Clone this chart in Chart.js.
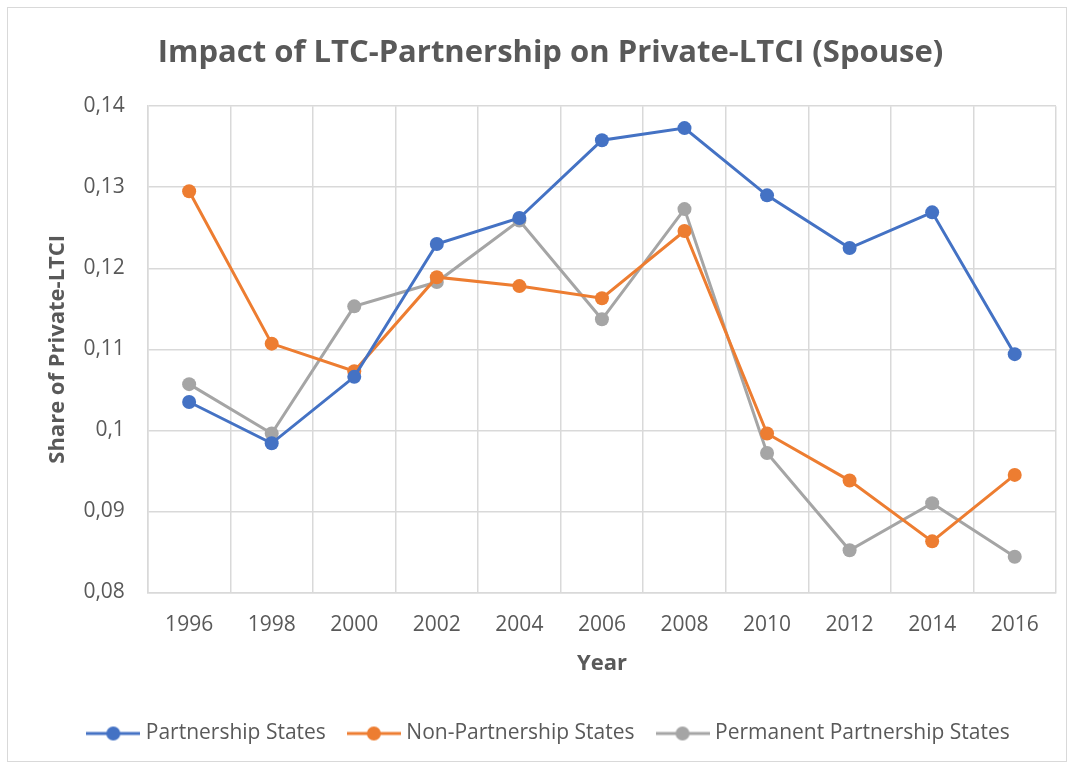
<!DOCTYPE html>
<html>
<head>
<meta charset="utf-8">
<script src="https://cdn.jsdelivr.net/npm/chart.js@4"></script>
<style>
  body { margin: 0; background: #fff; }
  #wrap { position: absolute; left: 7px; top: 7px; width: 1060px; height: 755px; border: 1px solid #d9d9d9; box-sizing: border-box; }
</style>
</head>
<body>
<div id="wrap"><canvas id="lineChart" width="1058" height="753"></canvas></div>
<script>
var YEARS = ["1996","1998","2000","2002","2004","2006","2008","2010","2012","2014","2016"],
    PARTNERSHIP = [0.1035, 0.0984, 0.1066, 0.1230, 0.1262, 0.1358, 0.1373, 0.1290, 0.1225, 0.1269, 0.1094],
    NON_PARTNERSHIP = [0.1295, 0.1107, 0.1073, 0.1189, 0.1178, 0.1163, 0.1246, 0.0996, 0.0938, 0.0863, 0.0945],
    PERMANENT = [0.1057, 0.0996, 0.1153, 0.1183, 0.1259, 0.1137, 0.1273, 0.0972, 0.0852, 0.0910, 0.0844],
    NAMES = ["Partnership States", "Non-Partnership States", "Permanent Partnership States"],
    COLORS = ["#4472C4", "#ED7D31", "#A5A5A5"];

var FONT = "'Open Sans', 'Noto Sans', sans-serif";
var TEXT = "#595959";

// petit symbole ligne + point pour la legende, comme dans Excel
function legendIcon(color) {
    var c = document.createElement("canvas");
    c.width = 54; c.height = 16;
    var g = c.getContext("2d");
    g.strokeStyle = color;
    g.lineWidth = 3;
    g.beginPath(); g.moveTo(0, 8); g.lineTo(54, 8); g.stroke();
    g.fillStyle = color;
    g.beginPath(); g.arc(27, 8, 7, 0, Math.PI * 2); g.fill();
    return c;
}

function makeSet(i, values) {
    return {
        label: NAMES[i],
        data: values,
        borderColor: COLORS[i],
        backgroundColor: COLORS[i],
        borderWidth: 3,
        pointRadius: 7,
        pointHoverRadius: 7,
        pointBorderWidth: 0,
        tension: 0
    };
}

var ctx = document.getElementById("lineChart").getContext("2d");
var lineChart = new Chart(ctx, {
    type: 'line',
    data: {
        labels: YEARS,
        datasets: [makeSet(0, PARTNERSHIP), makeSet(1, NON_PARTNERSHIP), makeSet(2, PERMANENT)]
    },
    options: {
        responsive: false,
        animation: false,
        layout: { padding: { left: 37, right: 10, top: 12, bottom: 7 } },
        plugins: {
            title: {
                display: true,
                text: 'Impact of LTC-Partnership on Private-LTCI (Spouse)',
                color: TEXT,
                font: { family: FONT, size: 31, weight: 'bold' },
                padding: { top: 15, bottom: 34 }
            },
            legend: {
                position: 'bottom',
                labels: {
                    color: TEXT,
                    font: { family: FONT, size: 21 },
                    usePointStyle: true,
                    pointStyleWidth: 44,
                    boxHeight: 16,
                    padding: 26,
                    generateLabels: function (chart) {
                        return chart.data.datasets.map(function (ds, i) {
                            return {
                                text: ds.label,
                                fontColor: TEXT,
                                pointStyle: legendIcon(COLORS[i]),
                                lineWidth: 0,
                                datasetIndex: i
                            };
                        });
                    }
                }
            },
            tooltip: { enabled: false }
        },
        scales: {
            x: {
                offset: true,
                grid: { offset: true, color: '#d9d9d9', lineWidth: 1.5, drawTicks: false },
                border: { color: '#d9d9d9', width: 1.5 },
                ticks: { color: TEXT, font: { family: FONT, size: 21 }, padding: 20, maxRotation: 0 },
                title: { display: true, text: 'Year', color: TEXT, font: { family: FONT, size: 22, weight: 'bold' }, padding: { top: -7, bottom: 20 } }
            },
            y: {
                min: 0.08,
                max: 0.14,
                grid: { color: '#d9d9d9', lineWidth: 1.5, drawTicks: false },
                border: { color: '#d9d9d9', width: 1.5 },
                ticks: {
                    stepSize: 0.01,
                    color: TEXT,
                    font: { family: FONT, size: 21 },
                    padding: 23,
                    callback: function (v) { return String(+v.toFixed(2)).replace('.', ','); }
                },
                title: { display: true, text: 'Share of Private-LTCI', color: TEXT, font: { family: FONT, size: 22, weight: 'bold' }, padding: { top: 0, bottom: -11 } }
            }
        }
    }
});
</script>
</body>
</html>
